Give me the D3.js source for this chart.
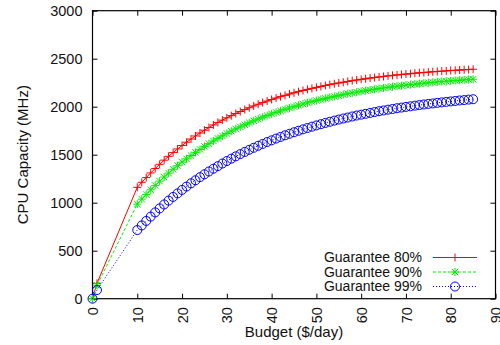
<!DOCTYPE html>
<html>
<head>
<meta charset="utf-8">
<script src="https://cdn.jsdelivr.net/npm/d3@7"></script>
<style>
  html, body { margin: 0; padding: 0; background: #fff; }
  svg { display: block; }
  text { font-family: "Liberation Sans", Arial, Helvetica, sans-serif; fill: #111; }
</style>
</head>
<body>
<div id="chart"></div>
<script>
// ---- data ----
const budget = [0,1,10,11,12,13,14,15,16,17,18,19,20,21,22,23,24,25,26,27,28,29,30,31,32,33,34,35,36,37,38,39,40,41,42,43,44,45,46,47,48,49,50,51,52,53,54,55,56,57,58,59,60,61,62,63,64,65,66,67,68,69,70,71,72,73,74,75,76,77,78,79,80,81,82,83,84,85];
const guarantee80 = [0,160,1160,1212,1262,1310,1356,1400,1443,1483,1522,1560,1596,1630,1663,1695,1726,1755,1783,1810,1836,1860,1884,1907,1929,1950,1970,1989,2008,2026,2043,2059,2075,2090,2105,2118,2132,2145,2157,2169,2180,2191,2201,2211,2221,2230,2239,2247,2255,2263,2271,2278,2285,2291,2298,2304,2310,2315,2321,2326,2331,2335,2340,2344,2349,2353,2356,2360,2364,2367,2370,2373,2377,2379,2382,2385,2387,2390];
const guarantee90 = [0,140,985,1037,1086,1134,1180,1224,1267,1308,1348,1386,1422,1457,1491,1524,1555,1586,1615,1643,1670,1696,1721,1745,1768,1790,1812,1833,1853,1872,1890,1908,1925,1941,1957,1972,1987,2001,2015,2028,2041,2053,2064,2076,2086,2097,2107,2116,2126,2135,2143,2152,2160,2167,2175,2182,2189,2195,2202,2208,2214,2219,2225,2230,2235,2240,2245,2249,2253,2258,2262,2265,2269,2273,2276,2280,2283,2286];
const guarantee99 = [0,90,715,763,810,855,899,941,982,1022,1060,1097,1133,1168,1202,1234,1266,1296,1325,1354,1381,1408,1434,1459,1483,1506,1529,1551,1572,1593,1612,1632,1650,1668,1685,1702,1718,1734,1749,1764,1778,1792,1805,1818,1831,1843,1855,1866,1877,1887,1898,1908,1917,1926,1935,1944,1953,1961,1969,1976,1984,1991,1998,2004,2011,2017,2023,2029,2034,2040,2045,2050,2055,2060,2065,2069,2074,2078];
const seriesNames = ["Guarantee 80%", "Guarantee 90%", "Guarantee 99%"];
const xTicks = [0,10,20,30,40,50,60,70,80,90];
const yTicks = [0,500,1000,1500,2000,2500,3000];
const xTitle = "Budget ($/day)";
const yTitle = "CPU Capacity (MHz)";

// ---- layout / style ----
const W = 500, H = 345;
const M = { left: 92.5, right: 4.5, top: 10.7, bottom: 46.3 };
const series = [
  { name: seriesNames[0], values: guarantee80, color: "#ff0000", dash: null, marker: "plus" },
  { name: seriesNames[1], values: guarantee90, color: "#00f000", dash: "3,2", marker: "star" },
  { name: seriesNames[2], values: guarantee99, color: "#0000ff", dash: "1,2", marker: "circle" }
];

const svg = d3.select("#chart").append("svg").attr("width", W).attr("height", H);

const x = d3.scaleLinear().domain([0, 90]).range([M.left, W - M.right]);
const y = d3.scaleLinear().domain([0, 3000]).range([H - M.bottom, M.top]);

const tickLen = 5;
const tickFont = 14.5;
const fontSize = 15;
const legendFont = 14;

// axes (ticks inward, mirrored)
const gx = svg.append("g").attr("transform", `translate(0,${y(0)})`)
  .call(d3.axisBottom(x).tickValues(xTicks).tickSize(-tickLen).tickFormat(d3.format("d")));
gx.select(".domain").remove();
gx.selectAll("line").attr("stroke", "#000");
gx.selectAll("text")
  .attr("font-size", tickFont)
  .attr("transform", "rotate(-90)")
  .attr("text-anchor", "end")
  .attr("x", -8.5)
  .attr("y", 0)
  .attr("dy", "0.35em");

const gxt = svg.append("g").attr("transform", `translate(0,${y(3000)})`)
  .call(d3.axisTop(x).tickValues(xTicks).tickSize(-tickLen).tickFormat(""));
gxt.select(".domain").remove();
gxt.selectAll("line").attr("stroke", "#000");

const gy = svg.append("g").attr("transform", `translate(${x(0)},0)`)
  .call(d3.axisLeft(y).tickValues(yTicks).tickSize(-tickLen).tickFormat(d3.format("d")));
gy.select(".domain").remove();
gy.selectAll("line").attr("stroke", "#000");
gy.selectAll("text").attr("font-size", tickFont).attr("x", -10).attr("dy", "0.35em");

const gyr = svg.append("g").attr("transform", `translate(${x(90)},0)`)
  .call(d3.axisRight(y).tickValues(yTicks).tickSize(-tickLen).tickFormat(""));
gyr.select(".domain").remove();
gyr.selectAll("line").attr("stroke", "#000");

// frame
svg.append("rect")
  .attr("x", x(0)).attr("y", y(3000))
  .attr("width", x(90) - x(0)).attr("height", y(0) - y(3000))
  .attr("fill", "none").attr("stroke", "#000").attr("stroke-width", 1.2);

// titles
svg.append("text")
  .attr("x", (x(0) + x(90)) / 2).attr("y", 337)
  .attr("text-anchor", "middle").attr("font-size", fontSize)
  .text(xTitle);
svg.append("text")
  .attr("transform", `translate(28,${(y(0) + y(3000)) / 2}) rotate(-90)`)
  .attr("text-anchor", "middle").attr("font-size", fontSize)
  .text(yTitle);

// marker paths
function markerPath(type, s) {
  if (type === "plus") return `M${-s},0H${s}M0,${-s}V${s}`;
  if (type === "star") {
    const d = s * 0.8;
    return `M${-s},0H${s}M0,${-s}V${s}M${-d},${-d}L${d},${d}M${-d},${d}L${d},${-d}`;
  }
  return null;
}

const line = d3.line().x((d, i) => x(budget[i])).y(d => y(d));

series.forEach(s => {
  const g = svg.append("g");
  g.append("path")
    .attr("d", line(s.values))
    .attr("fill", "none")
    .attr("stroke", s.color)
    .attr("stroke-width", 1)
    .attr("stroke-dasharray", s.dash);
  const pts = g.selectAll("g.pt").data(s.values).enter().append("g")
    .attr("transform", (d, i) => `translate(${x(budget[i])},${y(d)})`);
  if (s.marker === "circle") {
    pts.append("circle").attr("r", 4.5).attr("fill", "none").attr("stroke", s.color).attr("stroke-width", 1);
  } else {
    pts.append("path").attr("d", markerPath(s.marker, 4)).attr("fill", "none")
      .attr("stroke", s.color).attr("stroke-width", 1);
  }
});

// legend
const legX = 422, legY0 = 257.5, legDy = 14.5, sx0 = 433, sx1 = 477;
series.forEach((s, i) => {
  const yy = legY0 + i * legDy;
  svg.append("text").attr("x", legX).attr("y", yy).attr("dy", "0.35em")
    .attr("text-anchor", "end").attr("font-size", legendFont).text(s.name);
  svg.append("line").attr("x1", sx0).attr("x2", sx1).attr("y1", yy).attr("y2", yy)
    .attr("stroke", s.color).attr("stroke-width", 1).attr("stroke-dasharray", s.dash);
  const mx = (sx0 + sx1) / 2;
  if (s.marker === "circle") {
    svg.append("circle").attr("cx", mx).attr("cy", yy).attr("r", 4.5)
      .attr("fill", "none").attr("stroke", s.color);
  } else {
    svg.append("path").attr("transform", `translate(${mx},${yy})`)
      .attr("d", markerPath(s.marker, 4)).attr("fill", "none").attr("stroke", s.color);
  }
});
</script>
</body>
</html>
